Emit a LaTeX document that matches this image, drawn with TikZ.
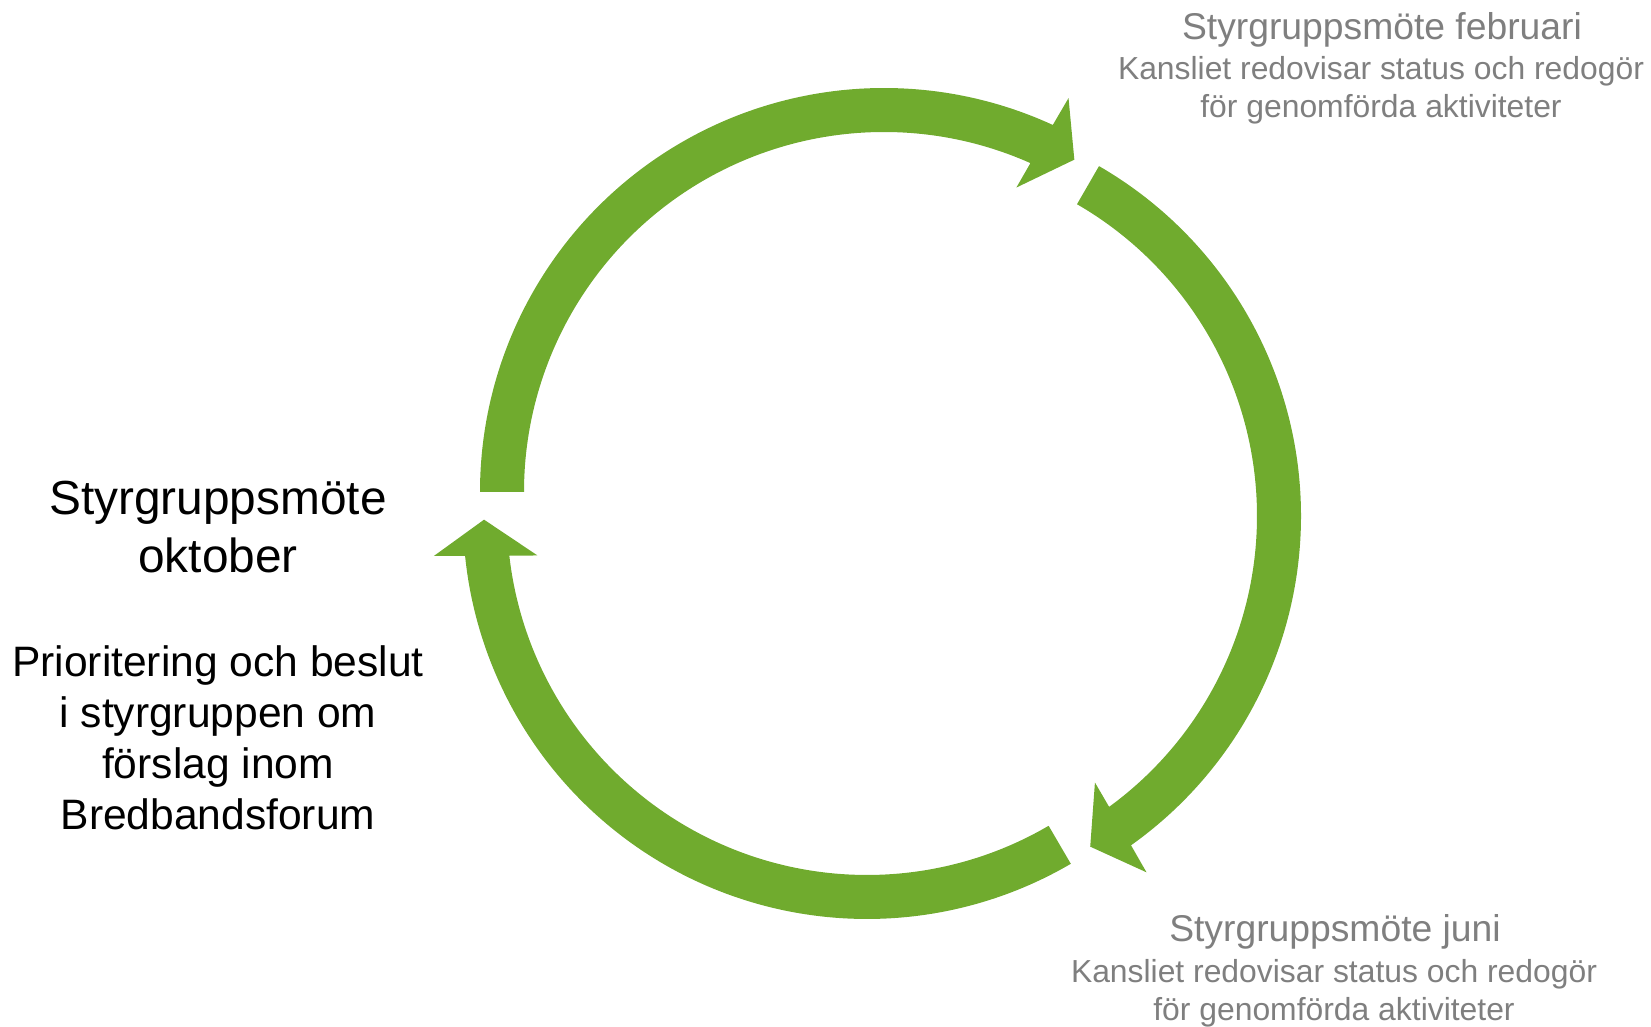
\documentclass[tikz,border=0pt]{standalone}
\usepackage{fontspec}
\setmainfont{Liberation Sans}
\usepackage{tikz}
\definecolor{arrowgreen}{RGB}{112,171,46}
\definecolor{notegray}{RGB}{127,127,127}
\tikzset{
	ringarrow/.style={fill=arrowgreen},
	bigtext/.style={align=center,font=\fontsize{13.6}{16.5}\selectfont},
	plaintext/.style={align=center,font=\fontsize{12.1}{14.5}\selectfont},
	graytitle/.style={align=center,text=notegray,font=\fontsize{10.6}{12.7}\selectfont},
	graybody/.style={align=center,text=notegray,font=\fontsize{9.06}{10.8}\selectfont}
}
% #1 centre, #2 start angle, #3 angle of the tip
\newcommand{\cyclearrow}[3]{%
	\fill[ringarrow,shift={#1}] (#2:360) -- (#2:404)
		arc[start angle=#2, end angle={#3+5.1}, radius=404]
		-- ({#3+4.7}:435) -- (#3:383) -- ({#3+6.3}:332) -- ({#3+5.8}:360)
		arc[start angle={#3+5.8}, end angle=#2, radius=360] -- cycle;}

\begin{document}
\begin{tikzpicture}[x=0.01cm,y=0.01cm]
	\useasboundingbox (0,0) rectangle (1651,1027);
	\cyclearrow{(884,535)}{180}{60.2}
	\cyclearrow{(897,511)}{60}{-59.7}
	\cyclearrow{(867,512)}{-59.7}{-179.3}
	\node[bigtext] (okt) at (218,500) {Styrgruppsmöte\\oktober};
	\node[plaintext] (oktnote) at (218,289) {Prioritering och beslut\\i styrgruppen om\\förslag inom\\Bredbandsforum};
	\node[graytitle] (feb) at (1382,997) {Styrgruppsmöte februari};
	\node[graybody] (febnote) at (1381,937) {Kansliet redovisar status och redogör\\för genomförda aktiviteter};
	\node[graytitle] (jun) at (1335,95) {Styrgruppsmöte juni};
	\node[graybody] (junnote) at (1334,34) {Kansliet redovisar status och redogör\\för genomförda aktiviteter};
\end{tikzpicture}
\end{document}
